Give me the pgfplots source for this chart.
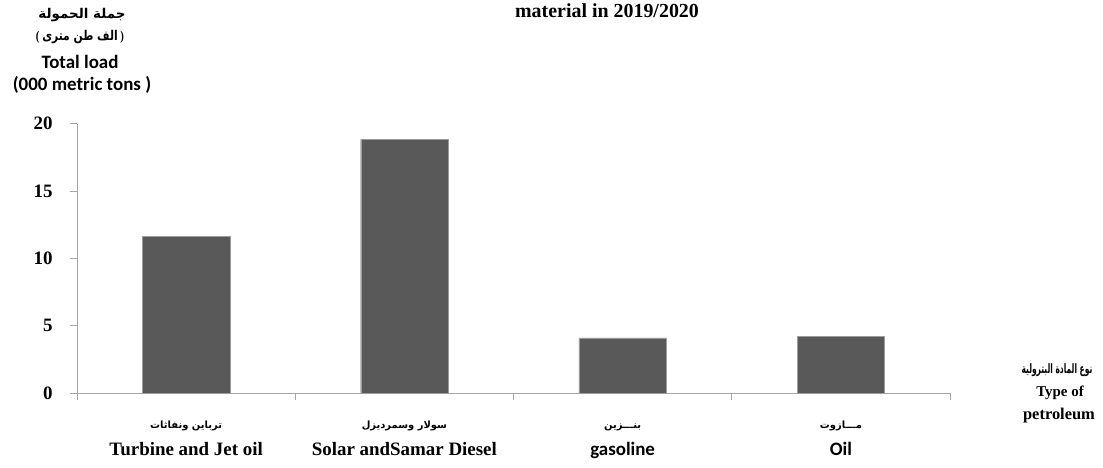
\documentclass[border=0pt]{standalone}
\usepackage{fontspec}
\usepackage{graphicx}
\usepackage{pgfplots}
\pgfplotsset{compat=1.18}
\setmainfont{Liberation Serif}
\newfontfamily\calibri{Carlito}
\newfontfamily\arabicfont[Script=Arabic]{DejaVu Sans}
\TeXXeTstate=1
\definecolor{barfill}{HTML}{595959}
\definecolor{axisgray}{HTML}{A6A6A6}

\newcommand{\arsmall}{\rule{0pt}{12bp}\arabicfont\bfseries\fontsize{10}{27}\selectfont}

\begin{document}
\begin{tikzpicture}[x=1bp,y=1bp]
\useasboundingbox (0,0) rectangle (1103,468);
\begin{axis}[
  at={(77bp,74.7bp)}, anchor=south west,
  scale only axis, width=873bp, height=269.6bp,
  ybar, bar width=0.4,
  xmin=-0.5, xmax=3.5, ymin=0, ymax=20,
  axis x line*=bottom, axis y line*=left,
  axis line style={axisgray, line width=1bp},
  tick style={axisgray, line width=1bp},
  tick align=outside, major tick length=7bp,
  ytick={0,5,10,15,20},
  yticklabel style={font=\bfseries\fontsize{19}{19}\selectfont, xshift=-14bp,
    /pgf/number format/assume math mode=true},
  xtick={-0.5,0.5,1.5,2.5,3.5}, xticklabels={},
  extra x ticks={0,1,2,3},
  extra x tick style={major tick length=0pt},
  extra x tick labels={
    {{\arsmall\beginR ترباين ونفاثات\endR}\\Turbine and Jet oil},
    {{\arsmall\beginR سولار وسمرديزل\endR}\\Solar andSamar Diesel},
    {{\arsmall\beginR بنـــزين\endR}\\{\calibri gasoline}},
    {{\arsmall\beginR مـــازوت\endR}\\{\calibri Oil}}},
  xticklabel style={align=center, yshift=-20bp, font=\bfseries\fontsize{19}{27}\selectfont},
]
\addplot[fill=barfill, draw=gray!70!black!60] coordinates {(0,11.62) (1,18.84) (2,4.12) (3,4.23)};
\end{axis}
\node[font=\bfseries\fontsize{20}{20}\selectfont] at (607,457) {material in 2019/2020};
\node[font=\arabicfont\bfseries\fontsize{13.5}{13.5}\selectfont] at (82,453) {\beginR جملة الحمولة\endR};
\node[font=\bfseries\fontsize{13.5}{13.5}\selectfont] at (80,431) {\scalebox{0.8}[1]{( {\arabicfont\beginR الف طن مترى\endR} )}};
\node[font=\calibri\bfseries\fontsize{19}{19}\selectfont] at (80,406) {Total load};
\node[font=\calibri\bfseries\fontsize{19}{19}\selectfont] at (82,383) {(000 metric tons )};
\node[font=\arabicfont\bfseries\fontsize{13}{13}\selectfont] at (1057,98) {\scalebox{0.58}[1]{\beginR نوع المادة البترولية\endR}};
\node[font=\bfseries\fontsize{15}{15}\selectfont] at (1060,75) {Type of};
\node[font=\bfseries\fontsize{16.5}{16.5}\selectfont] at (1059,52) {petroleum};
\end{tikzpicture}
\end{document}
